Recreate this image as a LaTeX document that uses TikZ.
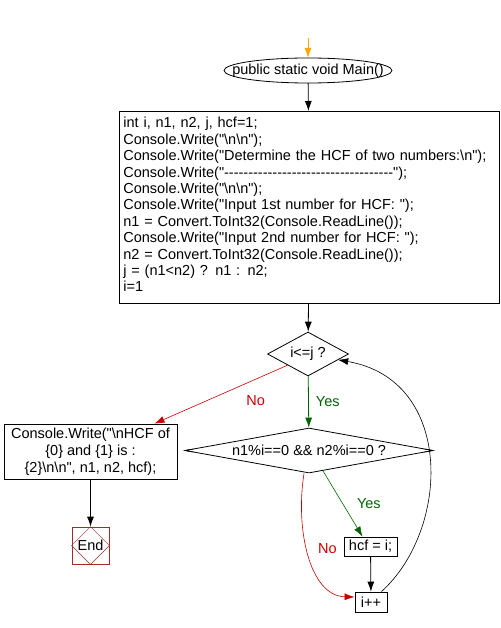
\documentclass[tikz,border=0pt]{standalone}
\usepackage{fontspec}
\setmainfont{Liberation Sans}[Ligatures=TeXOff]
\usetikzlibrary{shapes.geometric,arrows.meta}
\definecolor{yesgreen}{RGB}{0,100,0}
\definecolor{nored}{RGB}{204,0,0}
\definecolor{endbrown}{RGB}{165,42,42}
\definecolor{startorange}{RGB}{255,165,0}
\begin{document}
\begin{tikzpicture}[x=1pt,y=-1pt,
  every node/.style={font=\fontsize{14.5}{16.4}\selectfont, inner sep=0pt},
  box/.style={draw, line width=0.8pt},
  arr/.style={line width=0.8pt, -{Latex[length=10pt,width=7pt]}},
  thinarr/.style={line width=0.6pt, -{Latex[length=10pt,width=7pt]}},
  dia/.style={draw, diamond, line width=0.8pt}
]
\useasboundingbox (0,0) rectangle (500,628);
\coordinate (top) at (308,38);
\node[minimum width=168pt, minimum height=25pt] (main) at (308,70.5) {public static void Main()};
\draw[line width=0.8pt] (main.center) ellipse [x radius=84, y radius=12.5];
\node[box, anchor=north west, text width=372pt, inner xsep=4pt, inner ysep=6pt, align=left] (init) at (119,111) {int i, n1, n2, j, hcf=1;\\
Console.Write("\textbackslash n\textbackslash n");\\
Console.Write("Determine the HCF of two numbers:\textbackslash n");\\
Console.Write("-----------------------------------");\\
Console.Write("\textbackslash n\textbackslash n");\\
Console.Write("Input 1st number for HCF: ");\\
n1 = Convert.ToInt32(Console.ReadLine());\\
Console.Write("Input 2nd number for HCF: ");\\
n2 = Convert.ToInt32(Console.ReadLine());\\
j = (n1<n2) ? n1 : n2;\\
i=1\rule[-5pt]{0pt}{5pt}};
\node[dia, aspect=1.84, minimum width=81pt, minimum height=44pt] (d1) at (308,354) {i<=j ?};
\node[dia, aspect=5.5, minimum width=248pt, minimum height=45pt] (d2) at (309,450.5) {n1\%i==0 \&\& n2\%i==0 ?};
\node[box, minimum width=173pt, minimum height=55pt, align=center, font=\fontsize{14.5}{17}\selectfont] (out) at (90.5,451.5) {Console.Write("\textbackslash nHCF of\\ \{0\} and \{1\} is :\\ \{2\}\textbackslash n\textbackslash n", n1, n2, hcf);};
\node[draw=endbrown, line width=0.8pt, minimum size=37pt] (end) at (90.5,545.5) {End};
\draw[endbrown, line width=0.5pt] (end.north) -- (end.east) -- (end.south) -- (end.west) -- cycle;
\node[box, minimum width=53pt, minimum height=19pt] (hcf) at (370.5,546.5) {hcf = i;};
\node[box, minimum width=32pt, minimum height=20pt] (inc) at (371,602) {i++};
% tip marks on d2
\draw[line width=0.6pt] (d2.west) -- ([xshift=9pt,yshift=1.5pt]d2.west) (d2.west) -- ([xshift=9pt,yshift=-1.5pt]d2.west);
\draw[line width=0.6pt] (d2.east) -- ([xshift=-9pt,yshift=1.5pt]d2.east) (d2.east) -- ([xshift=-9pt,yshift=-1.5pt]d2.east);
% connectors
\draw[arr, startorange] (top) -- (main.north);
\draw[arr] (main) -- (init);
\draw[arr] (init) -- (d1);
\draw[arr, yesgreen] (d1) -- (d2) node[pos=0.5, anchor=west, xshift=7pt] {Yes};
\draw[thinarr, nored] (d1.south west) -- ([xshift=64pt]out.north) node[pos=0.5, anchor=west, xshift=25pt, yshift=-6pt] {No};
\draw[arr] (out) -- (end);
\draw[thinarr, yesgreen] ([xshift=14pt,yshift=2.5pt]d2.south) -- ([xshift=-8pt]hcf.north) node[pos=0.5, anchor=west, xshift=14pt] {Yes};
\draw[arr] (hcf) -- (inc);
\draw[thinarr, nored] ([xshift=-5pt]d2.south) .. controls (295,530) and (310,596) .. ([yshift=5pt]inc.west) node[pos=0.45, anchor=west, xshift=11pt] {No};
\draw[thinarr] (inc.45) .. controls (450,530) and (455,380) .. (d1.-11);
\end{tikzpicture}
\end{document}
